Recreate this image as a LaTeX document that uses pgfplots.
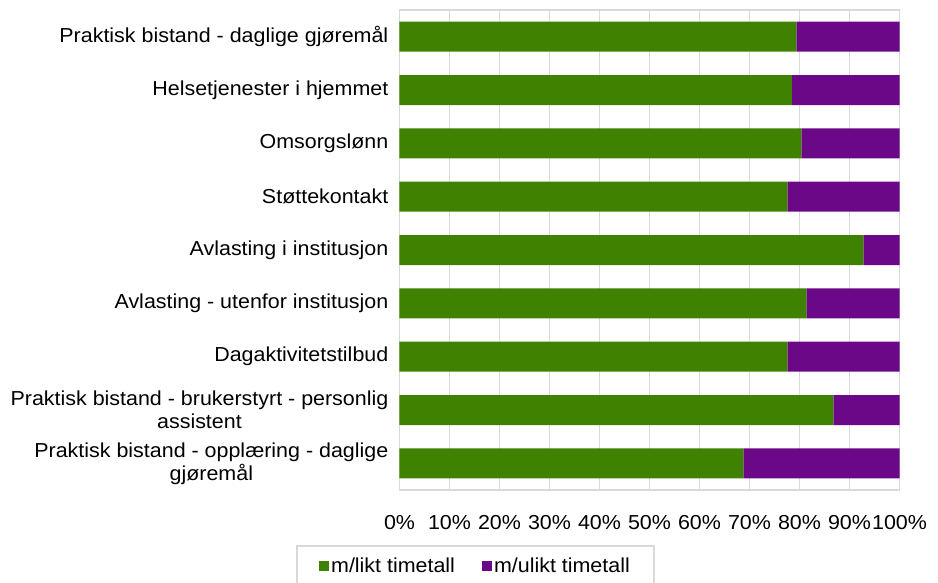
\documentclass[border=0pt]{standalone}
\usepackage{pgfplots}
\pgfplotsset{compat=1.18}
\usepackage{fontspec}
\setmainfont{Liberation Sans}[FakeStretch=1.06]
\definecolor{cgreen}{RGB}{63,129,0}
\definecolor{cpurple}{RGB}{106,8,136}
\definecolor{cgrid}{RGB}{217,217,217}
\begin{document}
\begin{tikzpicture}
\useasboundingbox (-399.5bp,-93bp) rectangle (538.5bp,490bp);
\begin{axis}[
  scale only axis,
  width=500bp, height=480bp,
  xbar stacked,
  bar width=30bp,
  y dir=reverse,
  xmin=0, xmax=100,
  ymin=-0.5, ymax=8.5,
  xtick={0,10,...,100},
  xticklabels={0\%,10\%,20\%,30\%,40\%,50\%,60\%,70\%,80\%,90\%,100\%},
  ytick={0,...,8},
  yticklabels={
    Praktisk bistand - daglige gjøremål,
    Helsetjenester i hjemmet,
    Omsorgslønn,
    Støttekontakt,
    Avlasting i institusjon,
    Avlasting - utenfor institusjon,
    Dagaktivitetstilbud,
    {Praktisk bistand - brukerstyrt - personlig\\assistent},
    {Praktisk bistand - opplæring - daglige\\gjøremål}},
  /pgf/number format/assume math mode=true,
  xmajorgrids,
  major grid style={cgrid, line width=1.5bp},
  axis line style={cgrid, line width=1.5bp},
  major tick length=0pt,
  tick style={draw=none},
  tick label style={font=\fontsize{20.3}{23}\selectfont, text=black},
  yticklabel style={align=center, inner sep=0pt, xshift=-11bp},
  xticklabel style={inner sep=0pt, yshift=-25bp},
  legend style={
    at={(0.152,-0.1146)}, anchor=north,
    draw=cgrid, line width=1.5bp,
    font=\fontsize{20.3}{22}\selectfont,
    legend columns=2,
    inner xsep=22bp, inner ysep=10bp,
    nodes={inner sep=2bp},
    /tikz/every even column/.append style={column sep=25bp},
  },
  legend image code/.code={\fill[#1, draw=none] (0bp,-5bp) rectangle (10bp,5bp);},
]
\addplot[fill=cgreen, draw=none] coordinates {
  (79.4,0) (78.5,1) (80.4,2) (77.6,3) (92.8,4) (81.4,5) (77.6,6) (86.8,7) (68.8,8)};
\addplot[fill=cpurple, draw=none] coordinates {
  (20.6,0) (21.5,1) (19.6,2) (22.4,3) (7.2,4) (18.6,5) (22.4,6) (13.2,7) (31.2,8)};
\legend{m/likt timetall, m/ulikt timetall}
\end{axis}
\end{tikzpicture}
\end{document}
